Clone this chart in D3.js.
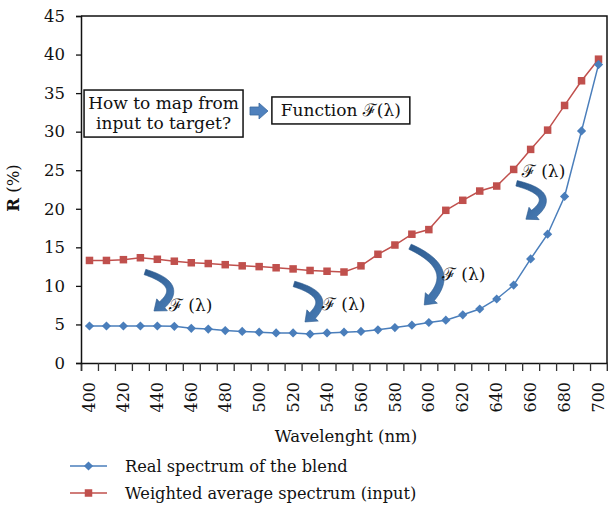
<!DOCTYPE html>
<html><head><meta charset="utf-8">
<script src="https://cdn.jsdelivr.net/npm/d3@7"></script>
<style>
body{margin:0;background:#fff;}
svg text{font-family:'DejaVu Serif','Noto Serif','Liberation Serif',serif;fill:#111;}
</style></head>
<body><svg id="chart" width="608" height="513"></svg>
<script>
const wavelengths = [400,410,420,430,440,450,460,470,480,490,500,510,520,530,540,550,560,570,580,590,600,610,620,630,640,650,660,670,680,690,700];
const realSpectrum = [4.8,4.8,4.8,4.8,4.8,4.75,4.5,4.4,4.2,4.1,4.0,3.9,3.9,3.75,3.9,4.0,4.1,4.3,4.6,4.9,5.25,5.55,6.25,7.0,8.3,10.1,13.5,16.7,21.6,30.1,38.7];
const weightedSpectrum = [13.3,13.3,13.4,13.65,13.45,13.2,13.0,12.9,12.75,12.6,12.5,12.35,12.2,12.0,11.9,11.8,12.6,14.1,15.3,16.7,17.3,19.8,21.1,22.3,22.95,25.1,27.7,30.2,33.4,36.6,39.4];
const xTickLabels = [400,420,440,460,480,500,520,540,560,580,600,620,640,660,680,700];
const yTicks = [0,5,10,15,20,25,30,35,40,45];
const seriesNames = ["Real spectrum of the blend","Weighted average spectrum (input)"];

const FONT = "'DejaVu Serif','Noto Serif','Liberation Serif',serif";
const svg = d3.select("#chart");
const L = 81, R = 607, T = 16, B = 363;
const x = d3.scaleBand().domain(wavelengths).range([L, R]);
const bw = x.bandwidth();
const cx = d => x(d) + bw / 2;
const xl = d3.scaleLinear().domain([400, 700]).range([cx(400), cx(700)]);
const y = d3.scaleLinear().domain([0, 45]).range([B, T]);

const blue = "#4a7ebb", red = "#c0504d";

svg.append("path").attr("d", `M${L},${T}H${R}V${B}`).attr("fill","none").attr("stroke","#111").attr("stroke-width",1.5);

const xb = d3.scaleLinear().domain([0, wavelengths.length]).range([L, R]);
const gxTicks = svg.append("g").attr("transform", `translate(0,${B})`)
  .call(d3.axisBottom(xb).tickValues(d3.range(0, wavelengths.length + 1)).tickSize(8).tickFormat(""));
gxTicks.select(".domain").attr("stroke","#111").attr("stroke-width",1.5);
gxTicks.selectAll(".tick line").attr("stroke","#333").attr("stroke-width",1.3);

const gx = svg.append("g").attr("transform", `translate(0,${B})`)
  .call(d3.axisBottom(x).tickValues(xTickLabels).tickSize(0).tickPadding(0));
gx.attr("font-family", null).attr("font-size", null);
gx.select(".domain").remove();
gx.selectAll(".tick text")
  .attr("transform","rotate(-90)").attr("text-anchor","end")
  .attr("x",-19).attr("y",0).attr("dy","0.35em")
  .style("font-size","16px").style("font-family",FONT).attr("fill","#111");

const gy = svg.append("g").attr("transform", `translate(${L},0)`)
  .call(d3.axisLeft(y).tickValues(yTicks).tickSize(5).tickPadding(11));
gy.attr("font-family", null).attr("font-size", null);
gy.select(".domain").attr("stroke","#111").attr("stroke-width",1.5);
gy.selectAll(".tick text").style("font-size","16.5px").style("font-family",FONT).attr("fill","#111");
gy.selectAll(".tick line").attr("stroke","#111").attr("stroke-width",1.3);

svg.append("text").attr("x", 346).attr("y", 442).attr("text-anchor","middle").style("font-size","16.5px").text("Wavelenght (nm)");
const yt = svg.append("text").attr("transform","translate(19,188) rotate(-90)").attr("text-anchor","middle").style("font-size","16.5px");
yt.append("tspan").attr("font-weight","bold").text("R");
yt.append("tspan").text(" (%)");

const line = vals => d3.line().x((d,i) => cx(wavelengths[i])).y(d => y(d))(vals);
svg.append("path").attr("d", line(weightedSpectrum)).attr("fill","none").attr("stroke",red).attr("stroke-width",1.5);
svg.append("path").attr("d", line(realSpectrum)).attr("fill","none").attr("stroke",blue).attr("stroke-width",1.5);
const sq = 7.5, dm = 4.6;
svg.append("g").selectAll("rect").data(weightedSpectrum).join("rect")
  .attr("x",(d,i)=>cx(wavelengths[i])-sq/2).attr("y",d=>y(d)-sq/2).attr("width",sq).attr("height",sq).attr("fill",red);
const diamond = (px,py,r) => `M${px},${py-r}L${px+r},${py}L${px},${py+r}L${px-r},${py}Z`;
svg.append("g").selectAll("path").data(realSpectrum).join("path")
  .attr("d",(d,i)=>diamond(cx(wavelengths[i]), y(d), dm)).attr("fill",blue);

const boxes = [
  {x0:396.8, x1:490.5, yTop:35.4, yBot:29.3, lines:["How to map from","input to target?"], size:17, lh:20},
  {x0:507.5, x1:588.8, yTop:34.5, yBot:31.0, lines:["Function ℱ(λ)"], size:17, lh:19}
];
boxes.forEach(b => {
  const px0 = xl(b.x0), px1 = xl(b.x1), py0 = y(b.yTop), py1 = y(b.yBot);
  svg.append("rect").attr("x",px0).attr("y",py0).attr("width",px1-px0).attr("height",py1-py0)
    .attr("fill","#fff").attr("stroke","#111").attr("stroke-width",1.5);
  const n = b.lines.length, mid = (py0+py1)/2;
  b.lines.forEach((t,i) => {
    svg.append("text").attr("x",(px0+px1)/2).attr("y", mid + (i-(n-1)/2)*b.lh + b.size*0.35)
      .attr("text-anchor","middle").style("font-size",b.size+"px").text(t);
  });
});

{
  const ax0 = xl(494.6), ax1 = xl(505.2), ay = y(32.68);
  const mx = ax0 + (ax1-ax0)*0.5;
  svg.append("path").attr("d",
    `M${ax0},${ay-4}H${mx}V${ay-8}L${ax1},${ay}L${mx},${ay+8}V${ay+4}H${ax0}Z`)
    .attr("fill","#4f81bd").attr("stroke","#3b6aa0").attr("stroke-width",0.8);
}

const curvedArrows = [
  {s:[432.7,11.8], c:[459.5,9.92], t:[438.0,6.74]},
  {s:[520.5,10.25], c:[546.7,8.56], t:[527.0,5.32]},
  {s:[588.9,15.08], c:[620.0,11.96], t:[597.3,7.52]},
  {s:[651.7,23.3], c:[679.6,21.75], t:[657.2,18.64]}
];
const defs = svg.append("defs");
const grad = defs.append("linearGradient").attr("id","ag").attr("x1","0").attr("y1","0").attr("x2","1").attr("y2","1");
grad.append("stop").attr("offset","0").attr("stop-color","#2c5a8e");
grad.append("stop").attr("offset","1").attr("stop-color","#4a7db6");
curvedArrows.forEach(a => {
  const S=[xl(a.s[0]),y(a.s[1])], C=[xl(a.c[0]),y(a.c[1])], Tp=[xl(a.t[0]),y(a.t[1])];
  const P = t => [(1-t)*(1-t)*S[0]+2*(1-t)*t*C[0]+t*t*Tp[0], (1-t)*(1-t)*S[1]+2*(1-t)*t*C[1]+t*t*Tp[1]];
  const D = t => [2*(1-t)*(C[0]-S[0])+2*t*(Tp[0]-C[0]), 2*(1-t)*(C[1]-S[1])+2*t*(Tp[1]-C[1])];
  let tb = 1; { let acc=0, prev=P(1); for (let t=1; t>0; t-=0.005){ const p=P(t); acc+=Math.hypot(p[0]-prev[0],p[1]-prev[1]); prev=p; if(acc>=10){tb=t;break;} } }
  const left=[], right=[], N=30;
  for (let i=0;i<=N;i++){
    const t = tb*i/N, p=P(t), d=D(t), len=Math.hypot(d[0],d[1]);
    const nx=-d[1]/len, ny=d[0]/len, w = 2.8 + 1.2*(i/N);
    left.push([p[0]+nx*w, p[1]+ny*w]); right.push([p[0]-nx*w, p[1]-ny*w]);
  }
  const pb=P(tb), db=D(tb), lb=Math.hypot(db[0],db[1]), nx=-db[1]/lb, ny=db[0]/lb, hw=8;
  const pts = [...left, [pb[0]+nx*hw,pb[1]+ny*hw], Tp, [pb[0]-nx*hw,pb[1]-ny*hw], ...right.reverse()];
  svg.append("path").attr("d","M"+pts.map(p=>p.join(",")).join("L")+"Z")
    .attr("fill","url(#ag)").attr("stroke","#2c5a8e").attr("stroke-width",0.6);
});

const fLabels = [[446.8,6.74],[537.0,6.87],[607.7,10.76],[654.8,24.1]];
fLabels.forEach(p => svg.append("text").attr("x",xl(p[0])).attr("y",y(p[1])).style("font-size","17px").text("ℱ (λ)"));

const legendY = [466, 493];
[[blue,"d"],[red,"s"]].forEach((s,i) => {
  const ly = legendY[i];
  svg.append("line").attr("x1",70).attr("x2",107).attr("y1",ly).attr("y2",ly).attr("stroke",s[0]).attr("stroke-width",1.5);
  if (s[1]==="d") svg.append("path").attr("d",diamond(88.5,ly,dm)).attr("fill",s[0]);
  else svg.append("rect").attr("x",88.5-sq/2).attr("y",ly-sq/2).attr("width",sq).attr("height",sq).attr("fill",s[0]);
  svg.append("text").attr("x",125).attr("y",ly+6).style("font-size","16.2px").text(seriesNames[i]);
});
</script></body></html>
